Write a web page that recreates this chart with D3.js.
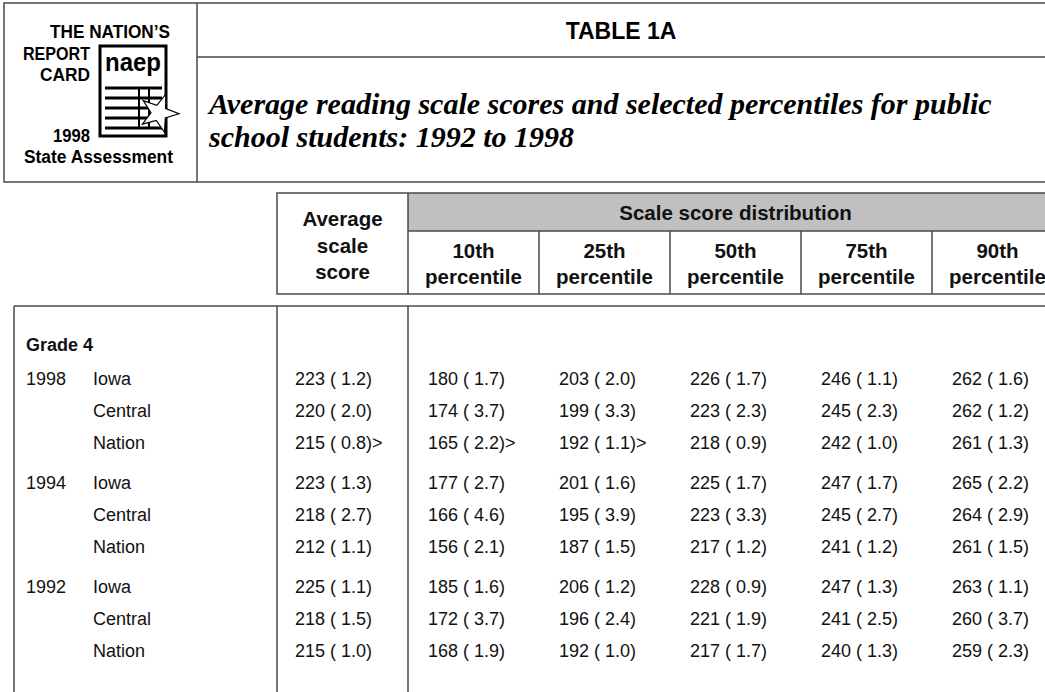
<!DOCTYPE html>
<html>
<head>
<meta charset="utf-8">
<script src="https://cdn.jsdelivr.net/npm/d3@7"></script>
<style>
  body { margin: 0; background: #fff; }
  svg { display: block; }
</style>
</head>
<body>
<div id="table"></div>
<script>
// table values
var years = ["1998", "1994", "1992"];
var places = ["Iowa", "Central", "Nation"];
var columns = ["avg", "p10", "p25", "p50", "p75", "p90"];
var pctLabels = ["10th", "25th", "50th", "75th", "90th"];

// one entry per row (1998 Iowa, Central, Nation, 1994 ..., 1992 ...)
var avgScore = [223, 220, 215, 223, 218, 212, 225, 218, 215];
var avgSE    = [1.2, 2.0, 0.8, 1.3, 2.7, 1.1, 1.1, 1.5, 1.0];
var p10      = [180, 174, 165, 177, 166, 156, 185, 172, 168];
var p10SE    = [1.7, 3.7, 2.2, 2.7, 4.6, 2.1, 1.6, 3.7, 1.9];
var p25      = [203, 199, 192, 201, 195, 187, 206, 196, 192];
var p25SE    = [2.0, 3.3, 1.1, 1.6, 3.9, 1.5, 1.2, 2.4, 1.0];
var p50      = [226, 223, 218, 225, 223, 217, 228, 221, 217];
var p50SE    = [1.7, 2.3, 0.9, 1.7, 3.3, 1.2, 0.9, 1.9, 1.7];
var p75      = [246, 245, 242, 247, 245, 241, 247, 241, 240];
var p75SE    = [1.1, 2.3, 1.0, 1.7, 2.7, 1.2, 1.3, 2.5, 1.3];
var p90      = [262, 262, 261, 265, 264, 261, 263, 260, 259];
var p90SE    = [1.6, 1.2, 1.3, 2.2, 2.9, 1.5, 1.1, 3.7, 2.3];
// ">" marks: value significantly different from 1998 Iowa
var flags = {
  avg: [0, 0, 1, 0, 0, 0, 0, 0, 0],
  p10: [0, 0, 1, 0, 0, 0, 0, 0, 0],
  p25: [0, 0, 1, 0, 0, 0, 0, 0, 0]
};

var svgWidth = 1045;
var svgHeight = 692;
var lineColor = "#4a4a4a";
var sans = "'Liberation Sans', Arial, sans-serif";
var narrow = "'Liberation Sans Narrow', 'Liberation Sans', Arial, sans-serif";

var svg = d3.select("#table")
    .append("svg")
    .attr("width", svgWidth)
    .attr("height", svgHeight);

// ---- top banner: logo box + title ----
svg.append("rect")
    .attr("x", 4).attr("y", 3)
    .attr("width", 1060).attr("height", 179)
    .attr("fill", "none")
    .attr("stroke", lineColor)
    .attr("stroke-width", 1.5);
svg.append("line")
    .attr("x1", 197).attr("x2", 197)
    .attr("y1", 3).attr("y2", 182)
    .attr("stroke", lineColor).attr("stroke-width", 1.5);
svg.append("line")
    .attr("x1", 197).attr("x2", 1045)
    .attr("y1", 57).attr("y2", 57)
    .attr("stroke", lineColor).attr("stroke-width", 1.5);

// logo
var logo = svg.append("g");
var logoText = [
  {t: "THE NATION\u2019S", x: 170, y: 38, w: 120},
  {t: "REPORT", x: 90, y: 60, w: 67},
  {t: "CARD", x: 90, y: 81, w: 50},
  {t: "1998", x: 90, y: 142, w: 37}
];
logo.selectAll("text.lt")
    .data(logoText)
    .enter()
    .append("text")
    .attr("class", "lt")
    .attr("x", function(d) { return d.x - d.w; })
    .attr("y", function(d) { return d.y; })
    .attr("textLength", function(d) { return d.w; })
    .attr("lengthAdjust", "spacingAndGlyphs")
    .attr("font-family", narrow)
    .attr("font-weight", "bold")
    .attr("font-size", 18)
    .text(function(d) { return d.t; });
logo.append("text")
    .attr("x", 24).attr("y", 163)
    .attr("textLength", 149)
    .attr("lengthAdjust", "spacingAndGlyphs")
    .attr("font-family", narrow)
    .attr("font-weight", "bold")
    .attr("font-size", 18)
    .text("State Assessment");

// report card document
logo.append("rect")
    .attr("x", 100).attr("y", 46)
    .attr("width", 66).attr("height", 90)
    .attr("fill", "#fff")
    .attr("stroke", "#000")
    .attr("stroke-width", 3);
logo.append("text")
    .attr("x", 105).attr("y", 71)
    .attr("textLength", 56)
    .attr("lengthAdjust", "spacingAndGlyphs")
    .attr("font-family", sans)
    .attr("font-weight", "bold")
    .attr("font-size", 26)
    .text("naep");
d3.range(5).forEach(function(i) {
  logo.append("line")
      .attr("x1", 105).attr("x2", 162)
      .attr("y1", 88 + i * 10).attr("y2", 88 + i * 10)
      .attr("stroke", "#000").attr("stroke-width", 3);
});
[139, 149].forEach(function(x) {
  logo.append("line")
      .attr("x1", x).attr("x2", x)
      .attr("y1", 88).attr("y2", 128)
      .attr("stroke", "#000").attr("stroke-width", 2);
});
// star
var starPts = d3.range(10).map(function(i) {
  var a = -Math.PI / 2 + 0.35 + i * Math.PI / 5;
  var r = i % 2 === 0 ? 20 : 8;
  return [159 + r * Math.cos(a), 113 + r * Math.sin(a)];
});
logo.append("path")
    .attr("d", d3.line()(starPts) + "Z")
    .attr("fill", "#fff")
    .attr("stroke", "#000")
    .attr("stroke-width", 1.2);

// titles
svg.append("text")
    .attr("x", 621).attr("y", 39)
    .attr("text-anchor", "middle")
    .attr("font-family", narrow)
    .attr("font-weight", "bold")
    .attr("font-size", 23)
    .text("TABLE 1A");
svg.selectAll("text.sub")
    .data(["Average reading scale scores and selected percentiles for public",
           "school students: 1992 to 1998"])
    .enter()
    .append("text")
    .attr("class", "sub")
    .attr("x", 209)
    .attr("y", function(d, i) { return 114 + i * 33; })
    .attr("font-family", "'Liberation Serif', 'Times New Roman', serif")
    .attr("font-style", "italic")
    .attr("font-weight", "bold")
    .attr("font-size", 30)
    .text(function(d) { return d; });

// ---- column header ----
var x = d3.scaleBand()
    .domain(columns)
    .range([277, 277 + 131 * columns.length]);

var head = svg.append("g");
head.append("rect")
    .attr("x", x("p10")).attr("y", 193)
    .attr("width", x.bandwidth() * 5).attr("height", 38)
    .attr("fill", "#c0c0c0");
head.append("rect")
    .attr("x", x("avg")).attr("y", 193)
    .attr("width", x.bandwidth() * 6).attr("height", 101)
    .attr("fill", "none")
    .attr("stroke", lineColor).attr("stroke-width", 1.5);
head.append("line")
    .attr("x1", x("p10")).attr("x2", 1070)
    .attr("y1", 231).attr("y2", 231)
    .attr("stroke", lineColor).attr("stroke-width", 1.5);
head.selectAll("line.col")
    .data(columns.slice(1))
    .enter()
    .append("line")
    .attr("class", "col")
    .attr("x1", function(d) { return x(d); })
    .attr("x2", function(d) { return x(d); })
    .attr("y1", function(d) { return d === "p10" ? 193 : 231; })
    .attr("y2", 294)
    .attr("stroke", lineColor).attr("stroke-width", 1.5);

var headStyle = function(sel) {
  sel.attr("font-family", sans)
     .attr("font-weight", "bold")
     .attr("font-size", 20.5)
     .attr("fill", "#111")
     .attr("text-anchor", "middle");
};
head.selectAll("text.avg")
    .data(["Average", "scale", "score"])
    .enter()
    .append("text")
    .attr("class", "avg")
    .attr("x", x("avg") + x.bandwidth() / 2)
    .attr("y", function(d, i) { return 226 + i * 26.5; })
    .call(headStyle)
    .text(function(d) { return d; });
head.append("text")
    .attr("x", x("p10") + x.bandwidth() * 2.5)
    .attr("y", 220)
    .call(headStyle)
    .text("Scale score distribution");
var pctCols = columns.slice(1);
head.selectAll("text.pn")
    .data(pctLabels)
    .enter()
    .append("text")
    .attr("class", "pn")
    .attr("x", function(d, i) { return x(pctCols[i]) + x.bandwidth() / 2; })
    .attr("y", 258)
    .call(headStyle)
    .text(function(d) { return d; });
head.selectAll("text.pw")
    .data(pctLabels)
    .enter()
    .append("text")
    .attr("class", "pw")
    .attr("x", function(d, i) { return x(pctCols[i]) + x.bandwidth() / 2; })
    .attr("y", 284)
    .call(headStyle)
    .text("percentile");

// ---- body ----
var body = svg.append("g");
body.append("line")
    .attr("x1", 14).attr("x2", 1045)
    .attr("y1", 306).attr("y2", 306)
    .attr("stroke", lineColor).attr("stroke-width", 1.5);
body.selectAll("line.v")
    .data([14, x("avg"), x("p10")])
    .enter()
    .append("line")
    .attr("class", "v")
    .attr("x1", function(d) { return d; })
    .attr("x2", function(d) { return d; })
    .attr("y1", 306).attr("y2", 692)
    .attr("stroke", lineColor).attr("stroke-width", 1.5);

// row slots: 3 rows per year, with a wider gap between years
var y = d3.scaleLinear()
    .domain([0, 1])
    .range([379, 411]);
var rowSlot = function(i) { return Math.floor(i / 3) * 3.25 + (i % 3); };

body.append("text")
    .attr("x", 26).attr("y", y(-1.06))
    .attr("dy", "0.35em")
    .attr("font-family", sans)
    .attr("font-weight", "bold")
    .attr("font-size", 18)
    .attr("fill", "#111")
    .text("Grade 4");

var rows = d3.range(9).map(function(i) {
  return {
    year: i % 3 === 0 ? years[Math.floor(i / 3)] : "",
    place: places[i % 3],
    avg: [avgScore[i], avgSE[i], flags.avg[i]],
    p10: [p10[i], p10SE[i], flags.p10[i]],
    p25: [p25[i], p25SE[i], flags.p25[i]],
    p50: [p50[i], p50SE[i], 0],
    p75: [p75[i], p75SE[i], 0],
    p90: [p90[i], p90SE[i], 0],
    slot: rowSlot(i)
  };
});

var rowG = body.selectAll("g.row")
    .data(rows)
    .enter()
    .append("g")
    .attr("class", "row")
    .attr("transform", function(d) { return "translate(0," + y(d.slot) + ")"; })
    .attr("font-family", sans)
    .attr("font-size", 18)
    .attr("fill", "#111");

rowG.append("text")
    .attr("x", 26).attr("dy", "0.35em")
    .text(function(d) { return d.year; });
rowG.append("text")
    .attr("x", 93).attr("dy", "0.35em")
    .text(function(d) { return d.place; });

columns.forEach(function(c) {
  rowG.append("text")
      .attr("x", x(c) + (c === "avg" ? 18 : 20))
      .attr("dy", "0.35em")
      .text(function(d) {
        var v = d[c];
        return v[0] + " ( " + v[1].toFixed(1) + ")" + (v[2] ? ">" : "");
      });
});
</script>
</body>
</html>
